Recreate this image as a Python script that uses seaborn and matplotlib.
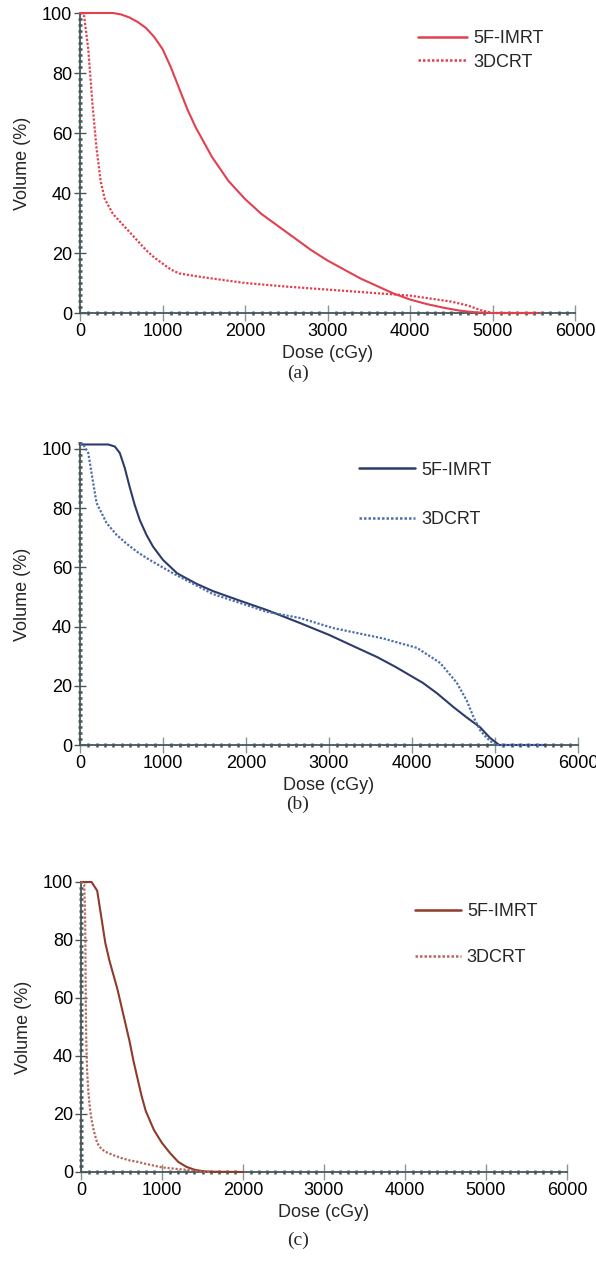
import numpy as np
import pandas as pd
import matplotlib
matplotlib.use("Agg")
import matplotlib.pyplot as plt
from matplotlib.ticker import MultipleLocator
import seaborn as sns

# ---------------- data ----------------
# Panel (a)
a_imrt_dose = [0, 400, 500, 600, 700, 800, 900, 1000, 1100, 1200, 1300, 1400, 1500, 1600,
               1800, 2000, 2200, 2400, 2600, 2800, 3000, 3200, 3400, 3600, 3800, 4000,
               4200, 4400, 4600, 4800, 5000, 5500]
a_imrt_vol = [100, 100, 99.5, 98.5, 97, 95, 92, 88, 82, 75, 68, 62, 57, 52,
              44, 38, 33, 29, 25, 21, 17.5, 14.5, 11.5, 9, 6.5, 4.5,
              3, 1.8, 0.8, 0.2, 0, 0]
a_3d_dose = [0, 50, 100, 150, 200, 250, 300, 400, 500, 600, 700, 800, 900, 1000, 1100,
             1200, 1400, 1600, 2000, 2500, 3000, 3500, 4000, 4200, 4500, 4700, 4850,
             5000, 5600]
a_3d_vol = [100, 99, 88, 70, 55, 44, 38, 33, 30, 27, 24, 21, 18.5, 16.5, 14.5,
            13.2, 12.3, 11.5, 10, 8.8, 7.8, 6.8, 5.8, 5, 3.8, 2.5, 1,
            0, 0]

# Panel (b)
b_imrt_dose = [0, 340, 420, 480, 540, 600, 660, 720, 800, 880, 1000, 1170, 1400, 1600,
               1900, 2250, 2650, 3000, 3300, 3580, 3800, 4130, 4300, 4500, 4650, 4820,
               4940, 5050, 5600]
b_imrt_vol = [101.5, 101.5, 100.8, 98.6, 93.5, 87, 81, 76, 71, 67, 62.5, 58, 54.5, 52,
              49, 45.6, 41.2, 37.2, 33.3, 29.7, 26.4, 21, 17.5, 12.8, 9.5, 6,
              2.4, 0, 0]
b_3d_dose = [0, 40, 100, 150, 200, 320, 440, 560, 700, 840, 1120, 1600, 2250, 2650,
             3050, 3650, 4060, 4340, 4540, 4660, 4740, 4820, 4900, 5000, 5600]
b_3d_vol = [101.5, 101.5, 98.6, 90, 81.7, 75, 71, 68, 65, 62.5, 58, 51, 45, 42.9,
            39.5, 36, 32.8, 27.7, 21, 15, 9.5, 5, 2.4, 0, 0]

# Panel (c)
c_imrt_dose = [0, 130, 200, 250, 300, 350, 400, 450, 500, 550, 600, 650, 700, 750, 800,
               900, 1000, 1100, 1200, 1300, 1400, 1500, 1600, 2000]
c_imrt_vol = [100, 100, 97, 88, 79, 73, 68, 63, 57, 51, 45, 38, 32, 26, 21,
              14.5, 10, 6.5, 3.5, 1.8, 0.8, 0.3, 0.1, 0]
c_3d_dose = [0, 40, 50, 55, 60, 65, 75, 90, 110, 130, 160, 200, 250, 300, 400, 500,
             600, 700, 800, 1000, 1200, 1400, 1500, 1600]
c_3d_vol = [100, 99, 90, 75, 55, 45, 35, 28, 22, 18, 14, 10, 8, 7, 5.8, 4.8,
            4, 3.5, 2.8, 1.6, 1, 0.5, 0.1, 0]

series_labels = ["5F-IMRT", "3DCRT"]
x_ticks = [0, 1000, 2000, 3000, 4000, 5000, 6000]
y_ticks = [0, 20, 40, 60, 80, 100]
panel_letters = ["(a)", "(b)", "(c)"]
x_label = "Dose (cGy)"
y_label = "Volume (%)"

# ---------------- style ----------------
sns.set_style("white")
plt.rcParams["font.family"] = ["Liberation Sans", "DejaVu Sans"]
FS = 13
AXC = "#46575a"

fig = plt.figure(figsize=(5.96, 12.68), dpi=100)
W, H = 596.0, 1268.0

def px_axes(left, right, top, bottom):
    return fig.add_axes([left / W, 1 - bottom / H, (right - left) / W, (bottom - top) / H])

panels = [
    dict(box=(80, 575, 13, 313), ymax=100,
         data=[(a_imrt_dose, a_imrt_vol), (a_3d_dose, a_3d_vol)],
         colors=["#e2404f", "#e2404f"],
         leg_anchor=(0.683, 0.942), leg_spacing=0.35, hl=2.7, letter_y=373),
    dict(box=(80, 578, 443, 745), ymax=102,
         data=[(b_imrt_dose, b_imrt_vol), (b_3d_dose, b_3d_vol)],
         colors=["#2c3b6a", "#4f6eaa"],
         leg_anchor=(0.56, 0.938), leg_spacing=1.78, hl=3.1, letter_y=804),
    dict(box=(81, 567, 882, 1172), ymax=100,
         data=[(c_imrt_dose, c_imrt_vol), (c_3d_dose, c_3d_vol)],
         colors=["#8e3b2b", "#b5665a"],
         leg_anchor=(0.688, 0.927), leg_spacing=1.6, hl=2.5, letter_y=1240),
]

for i, p in enumerate(panels):
    ax = px_axes(*p["box"])
    for j, (dose, vol) in enumerate(p["data"]):
        df = pd.DataFrame({"dose": dose, "vol": vol})
        sns.lineplot(data=df, x="dose", y="vol", ax=ax, color=p["colors"][j],
                     linewidth=1.5 if j == 0 else 1.6,
                     linestyle="-" if j == 0 else (0, (1, 0.8)),
                     label=series_labels[j], clip_on=False, zorder=3)
    ax.set_xlim(0, 6000)
    ax.set_ylim(0, p["ymax"])
    ax.set_xticks(x_ticks)
    ax.set_yticks(y_ticks)
    ax.xaxis.set_minor_locator(MultipleLocator(100))
    ax.yaxis.set_minor_locator(MultipleLocator(2))
    for s in ["top", "right"]:
        ax.spines[s].set_visible(False)
    for s in ["left", "bottom"]:
        ax.spines[s].set_color(AXC)
        ax.spines[s].set_linewidth(1.3)
    ax.tick_params(axis="both", which="both", bottom=True, left=True, top=False, right=False)
    ax.tick_params(axis="x", which="major", direction="inout", length=11, width=1.0,
                   color="#8a9595", labelsize=FS, labelcolor="black", pad=2)
    ax.tick_params(axis="y", which="major", direction="inout", length=8.5, width=1.0,
                   color=AXC, labelsize=FS, labelcolor="black", pad=1.5)
    ax.tick_params(axis="both", which="minor", direction="inout", length=3, width=1.8,
                   color=AXC)
    ax.set_xlabel(x_label, fontsize=FS, labelpad=3)
    ax.set_ylabel(y_label, fontsize=FS, labelpad=8)
    ax.set_facecolor("white")
    leg = ax.legend(loc="upper left", bbox_to_anchor=p["leg_anchor"], frameon=False,
                    fontsize=FS, handlelength=p["hl"], handletextpad=0.35,
                    labelspacing=p["leg_spacing"], borderpad=0, borderaxespad=0)
    for h in leg.get_lines():
        h.set_linewidth(1.8)
    fig.text(0.5, 1 - p["letter_y"] / H, panel_letters[i], ha="center", va="center",
             fontsize=14, family=["Liberation Serif", "DejaVu Serif"])

fig.savefig("out.png", dpi=100, facecolor="white")
